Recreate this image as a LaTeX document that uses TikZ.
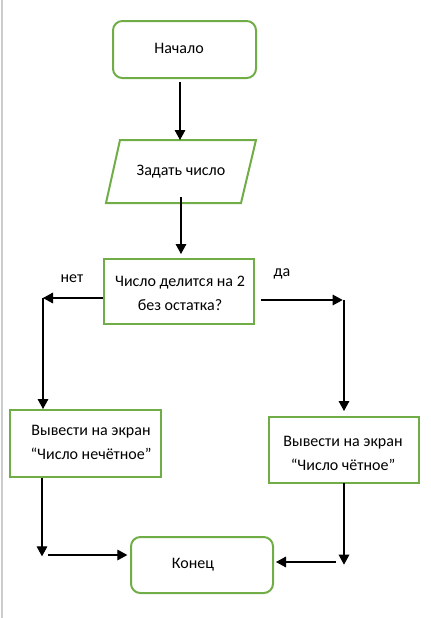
\documentclass[tikz,border=0pt]{standalone}
\usepackage{fontspec}
\setmainfont{Carlito}
\usetikzlibrary{arrows.meta}
\definecolor{boxgreen}{RGB}{112,173,71}

\begin{document}
\begin{tikzpicture}[x=0.75pt, y=-0.75pt,
  txt/.style={font=\fontsize{12}{18}\selectfont, align=center, inner sep=0pt},
  block/.style={draw=boxgreen, line width=1.5pt, fill=white, minimum width=#1},
  arr/.style={-{Triangle[length=7.5pt,width=8pt]}, line width=0.8pt}]
\useasboundingbox (0,0) rectangle (430,618);
\draw[color=black!20, line width=0.8pt] (2,0) -- (2,618);

% boxes
\node[block=107.25pt, rounded corners=7pt, minimum height=42.75pt] (start) at (184.5,49.5) {};
\node[txt] (startT) at (179,48) {Начало};
\draw[draw=boxgreen, line width=1.5pt] (120,140) -- (256,140) -- (241,203) -- (106,203) -- cycle;
\node[txt] (inp) at (181,172) {Задать число};
\node[block=112.5pt, minimum height=48.75pt] (dec) at (179,291.5) {};
\node[txt] (decT) at (180,293) {Число делится на 2\\без остатка?};
\node[block=113.25pt, minimum height=50.25pt] (odd) at (85.5,443.5) {};
\node[txt] (oddT) at (91,442) {Вывести на экран\\“Число нечётное”};
\node[block=112.5pt, minimum height=49.5pt] (even) at (344,450) {};
\node[txt] (evenT) at (343,453) {Вывести на экран\\“Число чётное”};
\node[block=106.5pt, rounded corners=7pt, minimum height=42pt] (end) at (202,565) {};
\node[txt] (endT) at (193,565) {Конец};

\node[txt] (no) at (72,279) {нет};
\node[txt] (yes) at (282,274) {да};

% connectors
\coordinate (inN) at (180,140);
\coordinate (inS) at (181,197);
\coordinate (noL) at (43,298);
\coordinate (yesR) at (344,300);
\coordinate (oddS) at (42,478);
\coordinate (oddE) at (42,555);
\coordinate (evenS) at (344,483);
\coordinate (evenE) at (344,562);

\draw[arr] (start.south -| inN) ++(0,3) -- (inN);
\draw[arr] (inS) -- (inS |- dec.north) [shorten >=3pt];
\draw[arr] (dec.west |- noL) -- (noL);
\draw[line width=0.8pt] (noL) -- ++(0,10);
\draw[arr] (noL) -- (noL |- odd.north);
\draw[arr] ([xshift=4.5pt]dec.east |- yesR) -- ([xshift=-1pt]yesR);
\draw[arr] (yesR) -- ([yshift=3.75pt]yesR |- even.north);
\draw[arr] (oddS) -- ([yshift=-1pt]oddE);
\draw[arr] ([xshift=4.5pt]oddE) -- ([xshift=-2pt]end.west |- oddE);
\draw[arr] (evenS) -- ([yshift=-2pt]evenE);
\draw[arr] ([xshift=-6pt]evenE) -- ([xshift=1.5pt]end.east |- evenE);
\end{tikzpicture}
\end{document}
